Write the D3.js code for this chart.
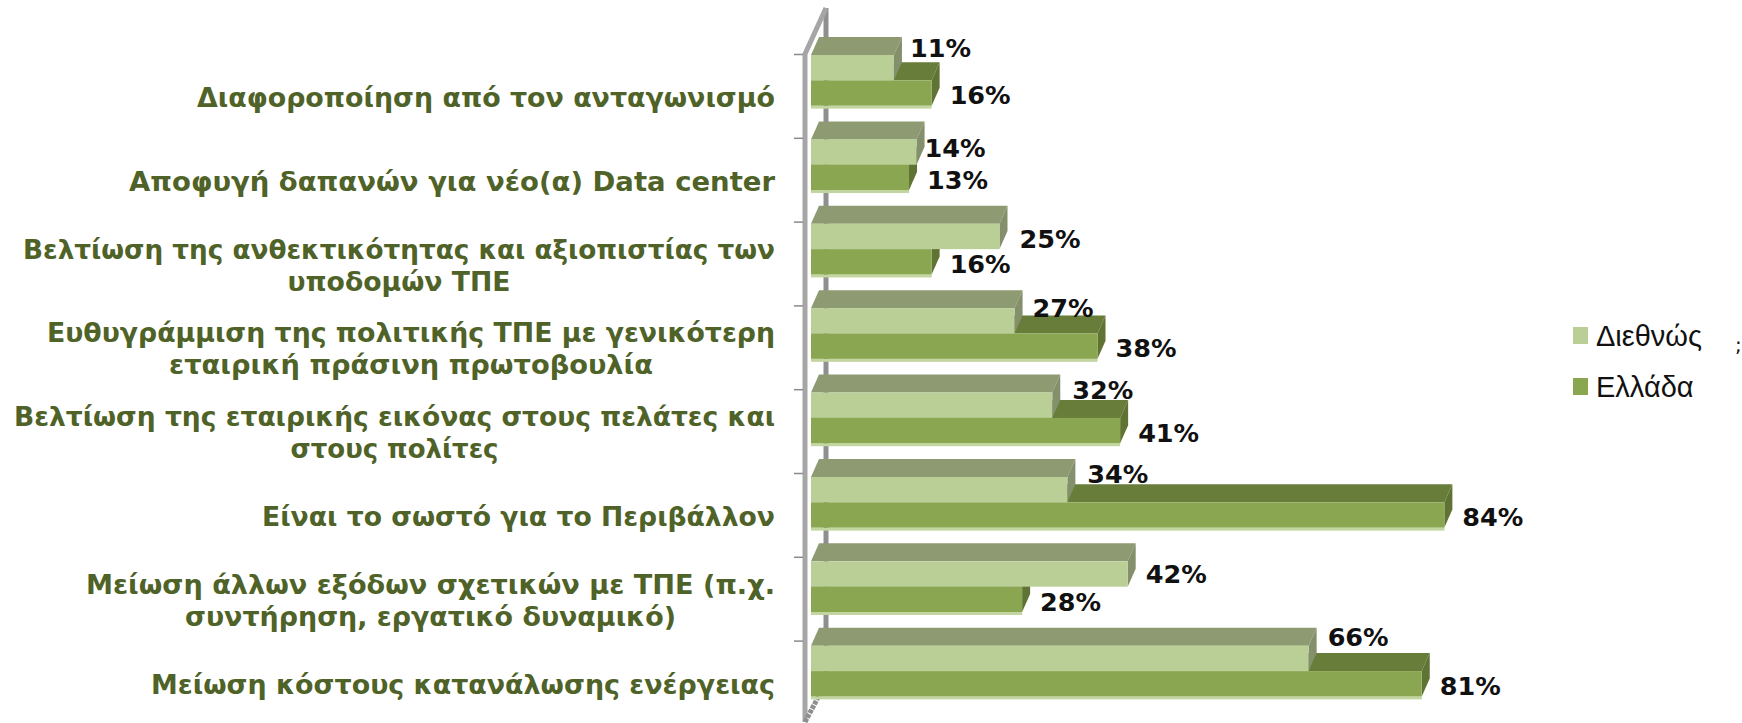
<!DOCTYPE html>
<html>
<head>
<meta charset="utf-8">
<script src="https://cdn.jsdelivr.net/npm/d3@7"></script>
<style>
  html, body { margin: 0; padding: 0; background: #fff; overflow: hidden; }
  svg { display: block; }
  text { font-family: "DejaVu Sans", sans-serif; }
</style>
</head>
<body>
<div id="chart"></div>
<script>
const categories = [
  ['Διαφοροποίηση από τον ανταγωνισμό'],
  ['Αποφυγή δαπανών για νέο(α) Data center'],
  ['Βελτίωση της ανθεκτικότητας και αξιοπιστίας των', 'υποδομών ΤΠΕ'],
  ['Ευθυγράμμιση της πολιτικής ΤΠΕ με γενικότερη', 'εταιρική πράσινη πρωτοβουλία'],
  ['Βελτίωση της εταιρικής εικόνας στους πελάτες και', 'στους πολίτες'],
  ['Είναι το σωστό για το Περιβάλλον'],
  ['Μείωση άλλων εξόδων σχετικών με ΤΠΕ (π.χ.', 'συντήρηση, εργατικό δυναμικό)'],
  ['Μείωση κόστους κατανάλωσης ενέργειας'],
];
const seriesNames = ['Διεθνώς', 'Ελλάδα'];
const intl = [11, 14, 25, 27, 32, 34, 42, 66];
const greece = [16, 13, 16, 38, 41, 84, 28, 81];

const colors = {
  'Διεθνώς': { front: '#b9cf96', top: '#8e9b72', side: '#848f6b' },
  'Ελλάδα': { front: '#8aa650', top: '#677d39', side: '#5f7434' },
};

const width = 1742, height = 723;
const depthX = 8, depthY = 18;

const svg = d3.select('#chart').append('svg')
  .attr('width', width)
  .attr('height', height);

const rows = categories.map((c, i) => ({ i, lines: c, intl: intl[i], greece: greece[i] }));

const x = d3.scaleLinear().domain([0, 100]).range([811, 1565]);
const y = d3.scaleBand().domain(d3.range(8)).range([55, 696.4]).paddingInner(0.4).paddingOuter(0).align(0);
const ySub = d3.scaleBand().domain(seriesNames).range([0, y.bandwidth()]);
const tickY = d3.scalePoint().domain(d3.range(8)).range([54, 640.6]);

// 3d walls
const wall = svg.append('g').attr('fill', 'none');
wall.append('line').attr('x1', 826).attr('x2', 826).attr('y1', 8).attr('y2', 695)
  .attr('stroke', '#8f8f8f').attr('stroke-width', 5);
wall.append('path').attr('d', 'M805,722V54L826,8')
  .attr('stroke', '#a6a6a6').attr('stroke-width', 5);
wall.append('line').attr('x1', 805).attr('x2', 822).attr('y1', 722).attr('y2', 690)
  .attr('stroke', '#8f8f8f').attr('stroke-width', 5).attr('stroke-dasharray', '4 1');

const axis = svg.append('g').attr('transform', 'translate(803,0)')
  .call(d3.axisLeft(tickY).tickSize(9).tickFormat(''));
axis.select('.domain').remove();
axis.selectAll('line').attr('stroke', '#8a8a8a').attr('stroke-width', 1.5);

function drawBar(g, name, valueOf) {
  const c = colors[name];
  const x0 = x(0);
  const top = d => y(d.i) + ySub(name);
  const h = ySub.bandwidth();
  g.selectAll(null).data(rows).join('path')
    .attr('fill', c.top)
    .attr('d', d => {
      const xe = x(valueOf(d)), t = top(d);
      return `M${x0},${t}L${x0 + depthX},${t - depthY}H${xe + depthX}L${xe},${t}Z`;
    });
  g.selectAll(null).data(rows).join('path')
    .attr('fill', c.side)
    .attr('d', d => {
      const xe = x(valueOf(d)), t = top(d);
      return `M${xe},${t}L${xe + depthX},${t - depthY}V${t + h - depthY}L${xe},${t + h}Z`;
    });
  g.selectAll(null).data(rows).join('rect')
    .attr('fill', c.front)
    .attr('x', x0)
    .attr('y', top)
    .attr('width', d => x(valueOf(d)) - x0)
    .attr('height', h);
}

// greece goes first, the intl bars sit in front of its top face
const bars = svg.append('g');
bars.append('g').selectAll(null).data(rows).join('rect')
  .attr('fill', '#c3d5a0')
  .attr('x', x(0))
  .attr('y', d => y(d.i) + y.bandwidth())
  .attr('width', d => x(d.greece) - x(0))
  .attr('height', 3);
drawBar(bars.append('g'), 'Ελλάδα', d => d.greece);
drawBar(bars.append('g'), 'Διεθνώς', d => d.intl);

// category labels, second line centred under the first
// the original text is stretched a bit unevenly, so each line gets its measured width
const labelWidths = [[578], [646], [752, 223], [728, 484], [761, 208], [513], [689, 491], [624]];
const labels = svg.append('g')
  .attr('fill', '#4f6228')
  .attr('font-size', 26.5)
  .attr('font-weight', 'bold');
rows.forEach(d => {
  const cy = tickY(d.i) + 43.5;
  const lineH = 32;
  const w = d3.max(labelWidths[d.i]);
  d.lines.forEach((line, k) => labels.append('text')
    .attr('text-anchor', 'middle')
    .attr('dy', '0.36em')
    .attr('x', 775 - w / 2)
    .attr('y', cy + (k - (d.lines.length - 1) / 2) * lineH)
    .attr('textLength', labelWidths[d.i][k])
    .attr('lengthAdjust', 'spacingAndGlyphs')
    .text(line));
});

// value labels, the intl ones are hand placed like in the original
const intlDx = [16, 8, 20, 18, 20, 20, 18, 19];
const intlDy = [-20, -4, 2, -13, -15, -16, 0, -22];
const vals = svg.append('g')
  .attr('fill', '#111')
  .attr('font-size', 25.5)
  .attr('font-weight', 'bold');
vals.selectAll(null).data(rows).join('text')
  .attr('x', d => x(d.intl) + intlDx[d.i])
  .attr('y', d => y(d.i) + ySub('Διεθνώς') + ySub.bandwidth() / 2 + intlDy[d.i])
  .attr('dy', '0.36em')
  .text(d => d.intl + '%');
vals.selectAll(null).data(rows).join('text')
  .attr('x', d => x(d.greece) + 18)
  .attr('y', d => y(d.i) + ySub('Ελλάδα') + ySub.bandwidth() / 2 + 2)
  .attr('dy', '0.36em')
  .text(d => d.greece + '%');

// legend
const legend = svg.append('g').selectAll(null).data(seriesNames).join('g')
  .attr('transform', (d, i) => `translate(1573,${327 + i * 51})`);
legend.append('rect').attr('width', 15).attr('height', 17).attr('fill', d => colors[d].front);
legend.append('text')
  .attr('x', 23).attr('y', 18.5)
  .attr('font-size', 29)
  .style('font-family', '"Liberation Sans", sans-serif')
  .attr('fill', '#111')
  .text(d => d);

svg.append('text').attr('x', 1735).attr('y', 352).attr('font-size', 20).attr('fill', '#111').text(';');
</script>
</body>
</html>
